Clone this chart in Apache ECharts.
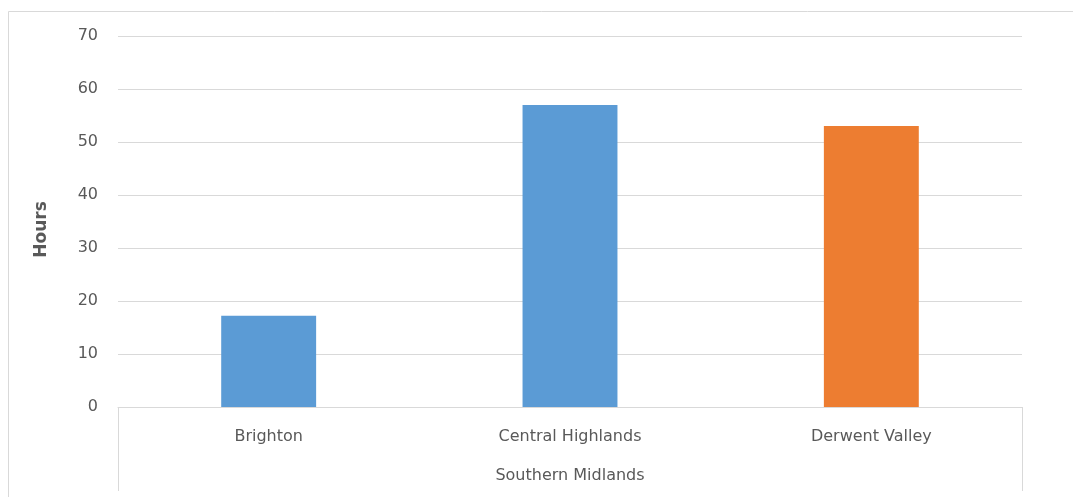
<!DOCTYPE html>
<html>
<head>
<meta charset="utf-8">
<script src="https://cdn.jsdelivr.net/npm/echarts@6/dist/echarts.min.js"></script>
<style>
  html, body { margin: 0; padding: 0; background: #fff; }
  #chart { width: 1073px; height: 497px; }
</style>
</head>
<body>
<div id="chart"></div>
<script>
// Hours per locality, grouped under one region
const regions = ['Southern Midlands'];
const localities = ['Brighton', 'Central Highlands', 'Derwent Valley'];
const hours = [17.2, 57.0, 53.0];
const barColors = ['#5b9bd5', '#5b9bd5', '#ed7d31'];
const yTicks = [0, 10, 20, 30, 40, 50, 60, 70];

const labelFont = { fontFamily: 'DejaVu Sans', fontSize: 16, color: '#595959' };

const chart = echarts.init(document.getElementById('chart'), null, { renderer: 'canvas' });
chart.setOption({
  animation: false,
  backgroundColor: '#fff',
  graphic: [{
    type: 'rect',
    shape: { x: 8.5, y: 11.5, width: 1080, height: 500 },
    style: { fill: 'none', stroke: '#d9d9d9', lineWidth: 1 },
    silent: true
  }],
  grid: { left: 118, right: 51, top: 36, bottom: 90, containLabel: false },
  xAxis: [{
    type: 'category',
    data: localities,
    position: 'bottom',
    axisLine: { show: true, lineStyle: { color: '#d9d9d9', width: 1 } },
    axisTick: { show: false },
    axisLabel: Object.assign({ margin: 22 }, labelFont),
    splitLine: { show: false }
  }, {
    type: 'category',
    data: regions,
    position: 'bottom',
    axisLine: { show: false },
    axisTick: { show: true, inside: false, length: 84, lineStyle: { color: '#d9d9d9', width: 1 } },
    axisLabel: Object.assign({ margin: 61 }, labelFont),
    splitLine: { show: false }
  }],
  yAxis: {
    type: 'value',
    min: yTicks[0],
    max: yTicks[yTicks.length - 1],
    interval: 10,
    name: 'Hours',
    nameLocation: 'middle',
    nameGap: 68,
    nameRotate: 90,
    nameTextStyle: { fontFamily: 'DejaVu Sans', fontSize: 17, fontWeight: 'bold', color: '#595959', padding: [0, 16, 0, 0] },
    axisLine: { show: false },
    axisTick: { show: false },
    axisLabel: Object.assign({ margin: 20 }, labelFont),
    splitLine: { show: true, lineStyle: { color: '#d9d9d9', width: 1 } }
  },
  series: [{
    type: 'bar',
    xAxisIndex: 0,
    data: hours.map((v, i) => ({ value: v, itemStyle: { color: barColors[i] } })),
    barWidth: '31.5%'
  }]
});
</script>
</body>
</html>
